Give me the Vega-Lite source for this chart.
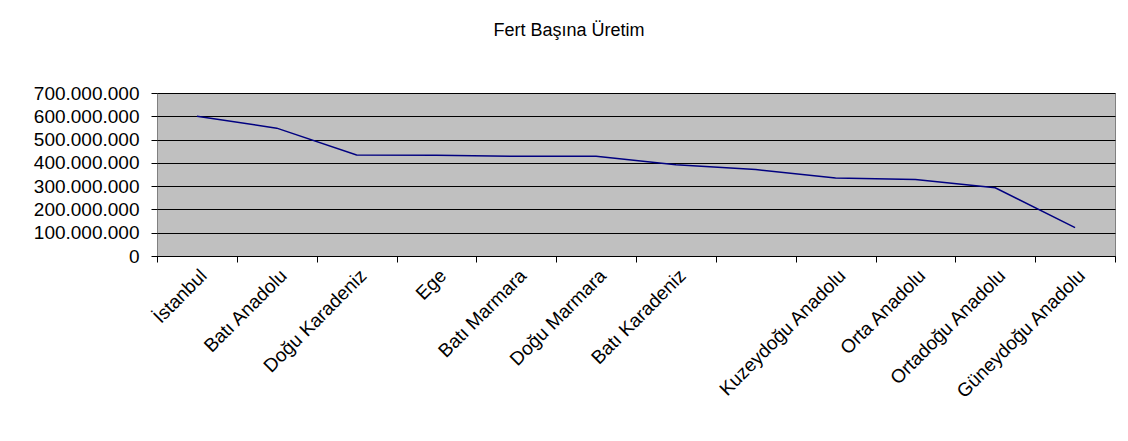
{
  "$schema": "https://vega.github.io/schema/vega-lite/v6.json",
  "width": 958,
  "height": 163,
  "autosize": {"type": "none"},
  "padding": {"left": 157, "top": 93, "right": 13, "bottom": 185},
  "background": "white",
  "title": {
    "text": "Fert Başına Üretim",
    "font": "Liberation Sans",
    "fontSize": 18,
    "fontWeight": "normal",
    "color": "black",
    "anchor": "middle",
    "dx": -67,
    "offset": 44
  },
  "config": {
    "locale": {
      "number": {"decimal": ",", "thousands": ".", "grouping": [3], "currency": ["", " TL"]}
    },
    "view": {"fill": "#C0C0C0", "stroke": "#808080", "strokeWidth": 1},
    "font": "Liberation Sans"
  },
  "data": {
    "values": [
      {"bolge": "İstanbul", "deger": 600000000},
      {"bolge": "Batı Anadolu", "deger": 549000000},
      {"bolge": "Doğu Karadeniz", "deger": 434000000},
      {"bolge": "Ege", "deger": 433000000},
      {"bolge": "Batı Marmara", "deger": 428000000},
      {"bolge": "Doğu Marmara", "deger": 428000000},
      {"bolge": "Batı Karadeniz", "deger": 392000000},
      {"bolge": "Akdeniz", "deger": 371000000},
      {"bolge": "Kuzeydoğu Anadolu", "deger": 335000000},
      {"bolge": "Orta Anadolu", "deger": 328000000},
      {"bolge": "Ortadoğu Anadolu", "deger": 293000000},
      {"bolge": "Güneydoğu Anadolu", "deger": 122000000}
    ]
  },
  "mark": {"type": "line", "color": "#000080", "strokeWidth": 1.5},
  "encoding": {
    "x": {
      "field": "bolge",
      "type": "nominal",
      "sort": null,
      "scale": {"type": "band", "paddingInner": 0, "paddingOuter": 0},
      "axis": {
        "title": null,
        "labelAngle": -45,
        "labelFont": "Liberation Sans",
        "labelFontSize": 19,
        "labelColor": "black",
        "labelPadding": 4,
        "labelOverlap": false,
        "labelExpr": "datum.value == 'Akdeniz' ? '' : datum.value",
        "tickBand": "extent",
        "tickSize": 6,
        "tickColor": "black",
        "domainColor": "black",
        "grid": false
      }
    },
    "y": {
      "field": "deger",
      "type": "quantitative",
      "scale": {"domain": [0, 700000000], "nice": false},
      "axis": {
        "title": null,
        "values": [0, 100000000, 200000000, 300000000, 400000000, 500000000, 600000000, 700000000],
        "format": ",d",
        "labelFont": "Liberation Sans",
        "labelFontSize": 19,
        "labelColor": "black",
        "labelPadding": 12,
        "tickSize": 6,
        "tickColor": "black",
        "domain": false,
        "grid": true,
        "gridColor": "black",
        "gridOpacity": 1,
        "gridWidth": 1
      }
    }
  }
}
